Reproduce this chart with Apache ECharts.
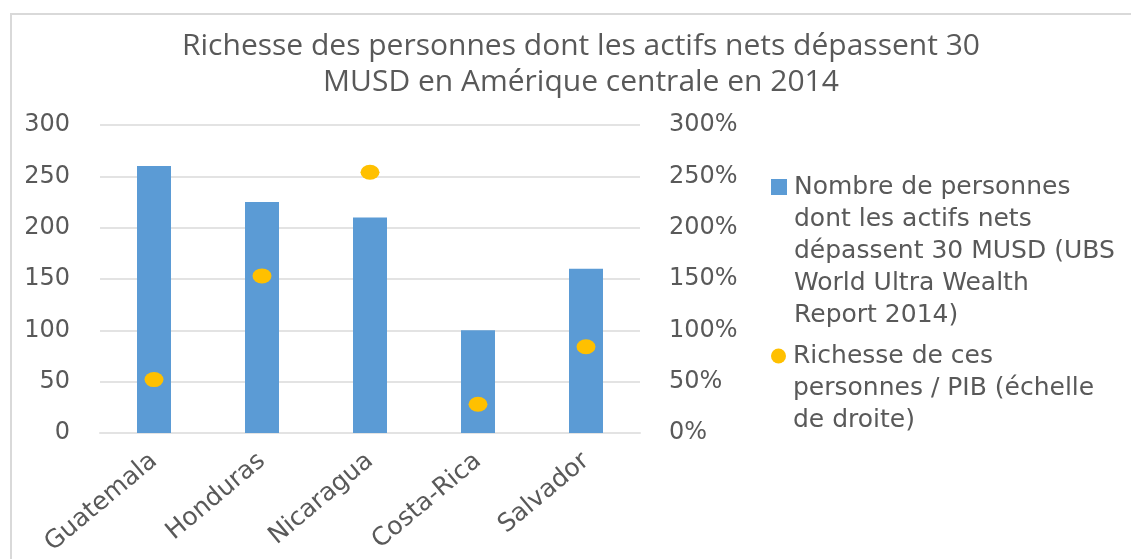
<!DOCTYPE html>
<html>
<head>
<meta charset="utf-8">
<script src="https://cdn.jsdelivr.net/npm/echarts@6/dist/echarts.min.js"></script>
<style>
  html, body { margin: 0; padding: 0; background: #fff; }
  #frame { position: absolute; left: 10px; top: 13px; right: 0; bottom: 0;
           border-top: 2px solid #d9d9d9; border-left: 2px solid #d9d9d9; }
  #chart { position: absolute; left: 0; top: 0; width: 1131px; height: 559px; }
</style>
</head>
<body>
<div id="frame"></div>
<div id="chart"></div>
<script>
const categories = ['Guatemala', 'Honduras', 'Nicaragua', 'Costa-Rica', 'Salvador'];
const peopleCount = [260, 225, 210, 100, 160];
const wealthToGdp = [52, 153, 254, 28, 84];
const leftTicks = { min: 0, max: 300, interval: 50 };
const rightTicks = { min: 0, max: 300, interval: 50 };

const barName = 'Nombre de personnes\ndont les actifs nets\ndépassent 30 MUSD (UBS\nWorld Ultra Wealth\nReport 2014)';
const dotName = 'Richesse de ces\npersonnes / PIB (échelle\nde droite)';

const textColor = '#595959';
const gridColor = '#e3e3e3';
const font = 'DejaVu Sans';

// pad with blank lines so the icon sits on the first text line
const padTop = (name) => {
  const n = name.split('\n').length;
  return '\n'.repeat(n - 1) + name;
};

const chart = echarts.init(document.getElementById('chart'));

const option = {
  backgroundColor: 'transparent',
  animation: false,
  title: {
    text: 'Richesse des personnes dont les actifs nets dépassent 30\nMUSD en Amérique centrale en 2014',
    left: 576,
    textAlign: 'center',
    top: 23,
    textStyle: {
      color: textColor,
      fontFamily: 'Open Sans',
      fontWeight: 'normal',
      fontSize: 30,
      lineHeight: 36
    }
  },
  legend: [
    {
      data: [barName],
      left: 766,
      top: 182 - 144,
      orient: 'vertical',
      itemWidth: 16,
      itemHeight: 16,
      icon: 'rect',
      formatter: padTop,
      textStyle: { color: textColor, fontFamily: font, fontSize: 25, lineHeight: 32, padding: [0, 0, 0, 2] }
    },
    {
      data: [dotName],
      left: 766,
      top: 351 - 80,
      orient: 'vertical',
      itemWidth: 17,
      itemHeight: 15,
      icon: 'circle',
      formatter: padTop,
      textStyle: { color: textColor, fontFamily: font, fontSize: 25, lineHeight: 32, padding: [0, 0, 0, 1] }
    }
  ],
  grid: {
    left: 100,
    right: 491,
    top: 125,
    bottom: 126,
    containLabel: false
  },
  xAxis: {
    type: 'category',
    data: categories,
    axisLine: { lineStyle: { color: gridColor, width: 2 } },
    axisTick: { show: false },
    axisLabel: {
      color: textColor,
      fontFamily: font,
      fontSize: 25,
      rotate: 40,
      margin: 25
    }
  },
  yAxis: [
    {
      type: 'value',
      min: leftTicks.min,
      max: leftTicks.max,
      interval: leftTicks.interval,
      axisLine: { show: false },
      axisTick: { show: false },
      axisLabel: { color: textColor, fontFamily: font, fontSize: 24, margin: 30 },
      splitLine: { lineStyle: { color: gridColor, width: 2 } }
    },
    {
      type: 'value',
      min: rightTicks.min,
      max: rightTicks.max,
      interval: rightTicks.interval,
      position: 'right',
      axisLine: { show: false },
      axisTick: { show: false },
      axisLabel: { color: textColor, fontFamily: font, fontSize: 24, margin: 29, formatter: '{value}%' },
      splitLine: { show: false }
    }
  ],
  series: [
    {
      name: barName,
      type: 'bar',
      data: peopleCount,
      barWidth: 34,
      itemStyle: { color: '#5b9bd5' }
    },
    {
      name: dotName,
      type: 'scatter',
      yAxisIndex: 1,
      data: wealthToGdp,
      symbol: 'circle',
      symbolSize: [19, 15],
      itemStyle: { color: '#ffc000', opacity: 1 }
    }
  ]
};

chart.setOption(option);
</script>
</body>
</html>
